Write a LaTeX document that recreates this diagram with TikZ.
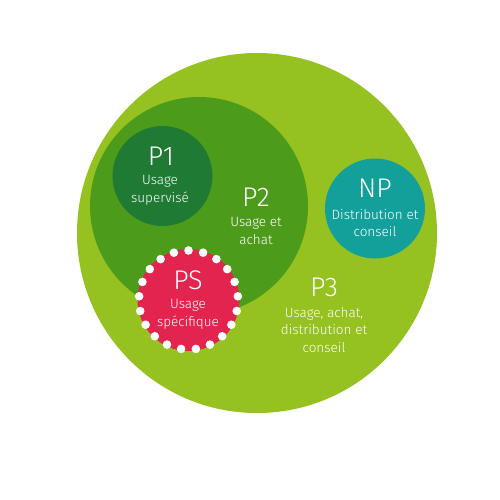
\documentclass[tikz,border=0pt]{standalone}
\usepackage{fontspec}
\setmainfont{Fira Sans}[UprightFont=* Light]
\usetikzlibrary{positioning}
\definecolor{pthreeclr}{RGB}{149,193,33}
\definecolor{ptwoclr}{RGB}{77,155,26}
\definecolor{poneclr}{RGB}{31,122,51}
\definecolor{npclr}{RGB}{19,160,154}
\definecolor{psclr}{RGB}{227,36,79}
\tikzset{ %
  ,zone/.style={circle, inner sep=0, draw=none}
  ,head/.style={text=white, inner sep=0, font=\fontsize{27}{27}\selectfont}
  ,body/.style={text=white, inner sep=0, align=center, font=\fontsize{13.5}{17.8}\selectfont}
  ,pearl/.style={fill=white}
}

\begin{document}
\begin{tikzpicture}[x=1pt, y=-1pt]
  \useasboundingbox (0,0) rectangle (500,500);
  \fill[white] (0,0) rectangle (500,500);
  % circles
  \node[zone, fill=pthreeclr, minimum size=360pt] (P3) at (257,233) {};
  \node[zone, fill=ptwoclr, minimum size=218pt] (P2) at (199,206) {};
  \node[zone, fill=poneclr, minimum size=100pt] (P1) at (162.5,176) {};
  \node[zone, fill=npclr, minimum size=100pt] (NP) at (375,208.5) {};
  \node[zone, fill=psclr, minimum size=102pt] (PS) at (188.5,300) {};
  \foreach \a in {0,...,20}
    \fill[pearl] ([shift={(90+\a*360/21:49.5pt)}]PS.center) circle (4.3pt);
  % labels
  \node[head] (P1h) at (161,156) {P1};
  \node[body] (P1t) at (160,190) {Usage\\supervisé};
  \node[head] (P2h) at (256,197) {P2};
  \node[body] (P2t) at (256,231) {Usage et\\achat};
  \node[head] (NPh) at (375,188) {NP};
  \node[body] (NPt) at (375,223) {Distribution et\\conseil};
  \node[head] (PSh) at (188,280) {PS};
  \node[body] (PSt) at (188,314) {Usage\\spécifique};
  \node[head] (P3h) at (324,287) {P3};
  \node[body] (P3t) at (324,330) {Usage, achat,\\distribution et\\conseil};
\end{tikzpicture}
\end{document}
